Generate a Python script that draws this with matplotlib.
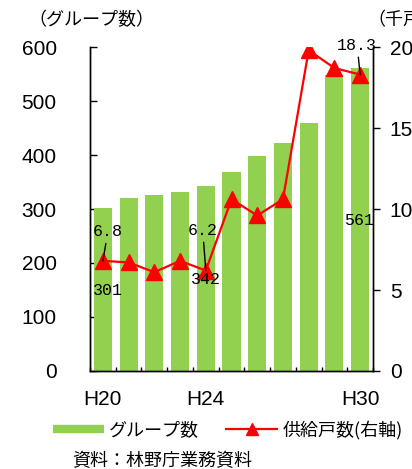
import numpy as np
import matplotlib
matplotlib.use("Agg")
import matplotlib.pyplot as plt
from matplotlib.lines import Line2D

plt.rcParams['font.family'] = ['Noto Sans CJK JP', 'DejaVu Sans']

# データ
years = ["H20", "H21", "H22", "H23", "H24", "H25", "H26", "H27", "H28", "H29", "H30"]
groups = [301, 320, 326, 331, 342, 368, 398, 422, 459, 548, 561]
houses = [6.8, 6.7, 6.1, 6.8, 6.2, 10.6, 9.6, 10.6, 19.8, 18.7, 18.3]
tick_years = ["H20", "H24", "H30"]

green = "#92D050"
red = "#FF0000"
numfont = "Liberation Sans"
monofont = "Liberation Mono"

fig = plt.figure(figsize=(4.12, 4.69), dpi=100)
W, H = 412, 469
ax = fig.add_axes([90 / W, 1 - 371 / H, 283 / W, 324 / H])
ax2 = ax.twinx()

x = np.arange(len(years))
ax.bar(x, groups, width=0.7, color=green, zorder=2)
ax2.plot(x, houses, color=red, lw=1.6, marker="^", markersize=12,
         markerfacecolor=red, markeredgecolor=red, zorder=3)

ax.set_xlim(-0.5, len(years) - 0.5)
ax.set_ylim(0, 600)
ax2.set_ylim(0, 20)
ax.set_yticks(range(0, 601, 100))
ax2.set_yticks(range(0, 21, 5))

for a in (ax, ax2):
    a.spines["top"].set_visible(False)
    a.spines["left"].set_linewidth(1)
    a.spines["right"].set_linewidth(1)
    a.spines["bottom"].set_linewidth(1)

ax.tick_params(axis="y", direction="in", length=5, width=1, pad=24,
               labelsize=15)
ax2.tick_params(axis="y", direction="out", length=5, width=1, pad=7,
                labelsize=15)
for lab in ax.get_yticklabels() + ax2.get_yticklabels():
    lab.set_fontfamily(numfont)

# 横軸：区切りの目盛りと一部の年次ラベル
ax.set_xticks(np.arange(-0.5, len(years), 1.0), minor=True)
ax.set_xticks([years.index(t) for t in tick_years])
ax.set_xticklabels(tick_years, fontfamily=numfont, fontsize=15)
ax.tick_params(axis="x", which="major", length=0, pad=14)
ax.tick_params(axis="x", which="minor", direction="in", length=3, width=1)

# 値ラベル
def px(v):
    return v * 0.72

lead = dict(arrowstyle="-", color="black", lw=1, shrinkA=1, shrinkB=0)
i = 0
ax2.annotate(f"{houses[i]}", (x[i], houses[i]), xytext=(px(5), px(29)),
             textcoords="offset points", ha="center", va="center",
             fontsize=12, fontfamily=monofont, arrowprops=lead, zorder=5)
ax2.annotate(f"{groups[i]}", (x[i], groups[i] / 30), xytext=(px(5), px(-82)),
             textcoords="offset points", ha="center", va="center",
             fontsize=12, fontfamily=monofont, zorder=5)
i = 4
ax2.annotate(f"{houses[i]}", (x[i], houses[i]), xytext=(px(-3), px(40)),
             textcoords="offset points", ha="center", va="center",
             fontsize=12, fontfamily=monofont, arrowprops=lead, zorder=5)
ax2.annotate(f"{groups[i]}", (x[i], groups[i] / 30), xytext=(px(0), px(-93)),
             textcoords="offset points", ha="center", va="center",
             fontsize=12, fontfamily=monofont, zorder=5)
i = 10
ax2.annotate(f"{groups[i]}", (x[i], groups[i] / 30), xytext=(px(-1), px(-152)),
             textcoords="offset points", ha="center", va="center",
             fontsize=12, fontfamily=monofont, zorder=5)
ax2.annotate(f"{houses[i]}", (x[i], houses[i]), xytext=(px(-3), px(29)),
             textcoords="offset points", ha="center", va="center",
             fontsize=12, fontfamily=monofont, arrowprops=lead, zorder=5)

# 軸タイトル
fig.text(28 / W, 1 - 20 / H, "（グループ数）", fontsize=13, va="center", ha="left")
fig.text(367 / W, 1 - 20 / H, "（千戸）", fontsize=13, va="center", ha="left")

# 凡例
handles = [
    Line2D([], [], color=green, lw=6, solid_capstyle="butt"),
    Line2D([], [], color=red, lw=1.6, marker="^", markersize=9,
           markerfacecolor=red, markeredgecolor=red),
]
fig.legend(handles, ["グループ数", "供給戸数(右軸)"], loc="center",
           bbox_to_anchor=(228 / W, 1 - 430 / H), ncol=2, frameon=False,
           fontsize=13, handlelength=2.8, handletextpad=0.3,
           columnspacing=1.5, borderaxespad=0, borderpad=0)

fig.text(72 / W, 1 - 461 / H, "資料：林野庁業務資料", fontsize=13,
         va="center", ha="left")

fig.savefig("out.png", dpi=100)
